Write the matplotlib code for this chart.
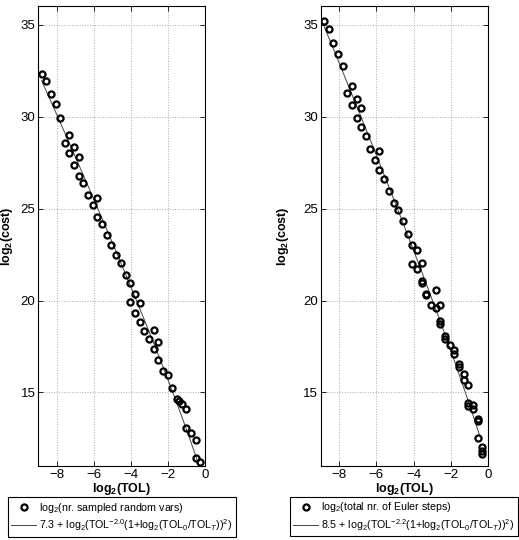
import numpy as np
import matplotlib
matplotlib.use('Agg')
import matplotlib.pyplot as plt

plt.rcParams['font.family'] = ['Liberation Sans', 'DejaVu Sans']
plt.rcParams['mathtext.fontset'] = 'custom'
plt.rcParams['mathtext.rm'] = 'Liberation Sans'
plt.rcParams['mathtext.it'] = 'Liberation Sans:italic'
plt.rcParams['mathtext.bf'] = 'Liberation Sans:bold'

# left panel: sampled random vars
tol_left = [-8.82, -8.57, -8.32, -8.06, -7.81, -7.32, -7.57, -7.07, -7.32, -6.81, -7.07,
            -6.81, -6.56, -6.30, -5.82, -6.07, -5.82, -5.56, -5.31, -5.05, -4.80, -4.55,
            -4.29, -4.04, -3.79, -4.04, -3.53, -3.79, -3.53, -3.28, -2.77, -3.03, -2.52,
            -2.77, -2.52, -2.26, -2.01, -1.76, -1.51, -1.40, -1.25, -1.02, -1.02, -0.76,
            -0.51, -0.51, -0.26]
cost_left = [32.30, 31.96, 31.23, 30.69, 29.96, 29.02, 28.60, 28.37, 28.01, 27.79, 27.37,
             26.77, 26.40, 25.72, 25.58, 25.22, 24.57, 24.15, 23.59, 23.04, 22.48, 22.03,
             21.41, 20.94, 20.38, 19.93, 19.85, 19.35, 18.84, 18.32, 18.41, 17.90, 17.77,
             17.39, 16.76, 16.18, 15.94, 15.25, 14.65, 14.55, 14.40, 14.08, 13.06, 12.77,
             12.40, 11.43, 11.21]

# right panel: Euler steps
tol_right = [-8.84, -8.57, -8.32, -8.07, -7.82, -7.31, -7.57, -7.06, -7.31, -6.83, -7.06,
             -6.83, -6.57, -6.32, -5.84, -6.07, -5.84, -5.57, -5.31, -5.06, -4.81, -4.56,
             -4.30, -4.07, -3.82, -4.07, -3.57, -3.82, -3.57, -3.57, -3.31, -3.31, -2.81,
             -3.06, -2.81, -2.56, -2.56, -2.56, -2.30, -2.30, -2.05, -1.80, -1.80, -1.55,
             -1.55, -1.30, -1.30, -1.04, -1.04, -1.04, -0.79, -0.79, -0.54, -0.54, -0.54,
             -0.29, -0.29, -0.29]
cost_right = [35.20, 34.80, 34.02, 33.40, 32.75, 31.66, 31.30, 30.94, 30.65, 30.45, 29.92,
              29.43, 28.98, 28.24, 28.13, 27.63, 27.10, 26.59, 25.94, 25.29, 24.92, 24.35,
              23.62, 23.02, 22.75, 22.01, 22.04, 21.72, 21.05, 20.97, 20.38, 20.30, 20.60,
              19.78, 19.60, 19.76, 18.90, 18.72, 18.08, 17.90, 17.57, 17.30, 17.12, 16.54,
              16.39, 16.00, 15.69, 15.41, 14.42, 14.24, 14.33, 14.08, 13.55, 13.47, 12.55,
              12.01, 11.83, 11.65]

log_tol0 = np.log2(3.0)
fit_left = (7.3, 2.0)
fit_right = (8.5, 2.2)

labels_left = ['log$_2$(nr. sampled random vars)',
               '7.3 + log$_2$(TOL$^{-2.0}$(1+log$_2$(TOL$_0$/TOL$_T$))$^2$)']
labels_right = ['log$_2$(total nr. of Euler steps)',
                '8.5 + log$_2$(TOL$^{-2.2}$(1+log$_2$(TOL$_0$/TOL$_T$))$^2$)']


def fit(x, c, p):
    x = np.asarray(x)
    return c - p * x + 2 * np.log2(1 + log_tol0 - x)


fig = plt.figure(figsize=(5.19, 5.40), dpi=100)
ax1 = fig.add_axes([0.0738, 0.137, 0.3212, 0.851])
ax2 = fig.add_axes([0.618, 0.137, 0.3218, 0.851])

panels = [(ax1, tol_left, cost_left, fit_left, labels_left, -0.26, (0.235, 0.0426), 4),
          (ax2, tol_right, cost_right, fit_right, labels_right, -0.46, (0.778, 0.0435), 9)]

for ax, tx, cy, (c, p), labs, xend, lpos, ypad in panels:
    xs = np.unique(np.append(np.asarray(tx)[np.asarray(tx) <= xend], xend))
    ax.plot(tx, cy, 'o', mfc='none', mec='black', mew=1.6, ms=4.4, label=labs[0], zorder=3)
    ax.plot(xs, fit(xs, c, p), '-', color='#444444', lw=0.7, label=labs[1], zorder=2)
    ax.set_xlim(-9, 0)
    ax.set_ylim(11, 36)
    ax.set_xticks([-8, -6, -4, -2, 0])
    ax.set_yticks([15, 20, 25, 30, 35])
    ax.set_xticklabels(['\u22128', '\u22126', '\u22124', '\u22122', '0'])
    ax.tick_params(direction='in', top=True, right=True, length=3.5, width=0.6,
                   labelsize=9.5, pad=2)
    ax.grid(True, linestyle=':', color='#aaaaaa', lw=0.7)
    for s in ax.spines.values():
        s.set_linewidth(0.8)
    ax.set_xlabel('log$_\\mathbf{2}$(TOL)', fontweight='bold', fontsize=9, labelpad=0)
    ax.set_ylabel('log$_\\mathbf{2}$(cost)', fontweight='bold', fontsize=9, labelpad=ypad)
    leg = ax.legend(loc='center', bbox_to_anchor=lpos, bbox_transform=fig.transFigure,
                    fontsize=7.7, frameon=True, fancybox=False, edgecolor='black',
                    framealpha=1, handlelength=2.3, handletextpad=0.3, borderpad=0.35,
                    labelspacing=0.25, borderaxespad=0)
    leg.get_frame().set_linewidth(0.8)

plt.savefig('out.png', dpi=100)
